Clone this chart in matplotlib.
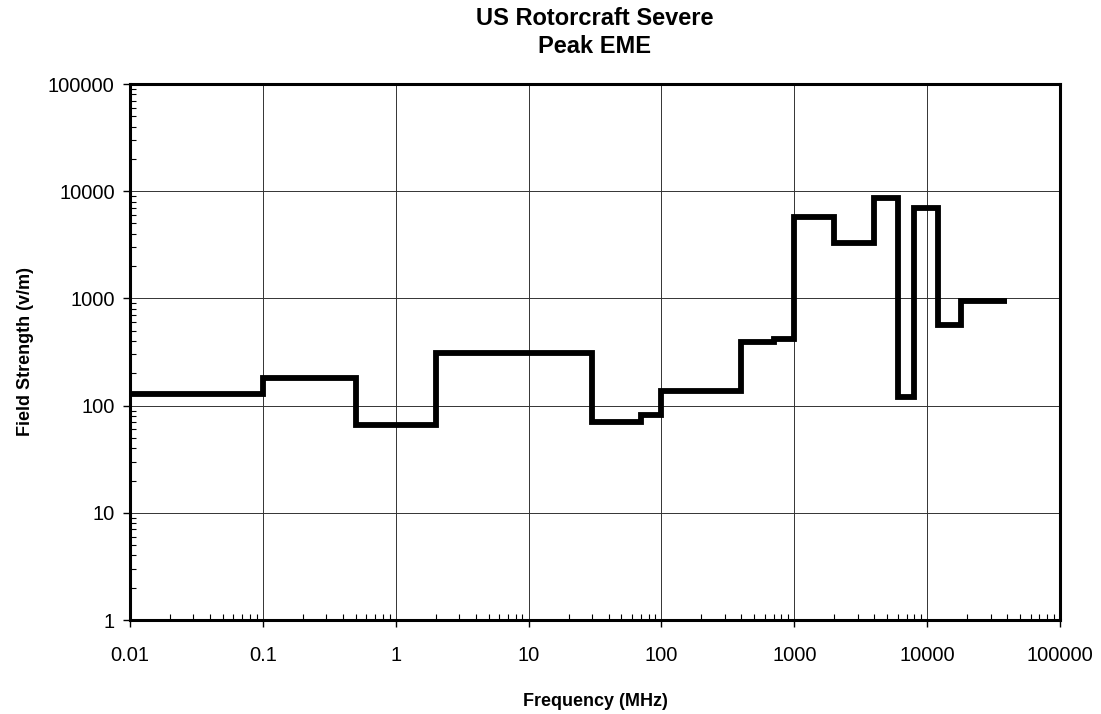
import numpy as np
import matplotlib
matplotlib.use("Agg")
import matplotlib.pyplot as plt
from matplotlib.ticker import FixedLocator, LogLocator, FuncFormatter, NullFormatter

# Frequenzbaender (MHz) und Feldstaerke (V/m)
freq_edges = [0.01, 0.1, 0.5, 2, 30, 70, 100, 400, 700, 1000,
              2000, 4000, 6000, 8000, 12000, 18000, 40000]
field_strength = [127, 180, 66, 310, 70, 82, 138, 390, 420, 5800,
                  3300, 8700, 120, 7000, 560, 950]

x_ticks = [0.01, 0.1, 1, 10, 100, 1000, 10000, 100000]
y_ticks = [1, 10, 100, 1000, 10000, 100000]

plt.rcParams['font.family'] = ['Liberation Sans', 'DejaVu Sans']

fig = plt.figure(figsize=(11.01, 7.14), dpi=100)
ax = fig.add_axes([130 / 1101, 1 - 620 / 714, 930 / 1101, 536 / 714])

y_step = np.append(field_strength, field_strength[-1])
ax.step(freq_edges, y_step, where='post', color='black', linewidth=4.2,
        solid_joinstyle='miter', solid_capstyle='butt', zorder=3)

ax.set_xscale('log')
ax.set_yscale('log')
ax.set_xlim(0.01, 100000)
ax.set_ylim(1, 100000)

fmt = FuncFormatter(lambda v, p: '%g' % v)
ax.xaxis.set_major_locator(FixedLocator(x_ticks))
ax.yaxis.set_major_locator(FixedLocator(y_ticks))
ax.xaxis.set_major_formatter(fmt)
ax.yaxis.set_major_formatter(fmt)
ax.xaxis.set_minor_locator(LogLocator(base=10, subs=np.arange(2, 10), numticks=20))
ax.yaxis.set_minor_locator(LogLocator(base=10, subs=np.arange(2, 10), numticks=20))
ax.xaxis.set_minor_formatter(NullFormatter())
ax.yaxis.set_minor_formatter(NullFormatter())

ax.tick_params(which='major', direction='out', length=5, width=1, labelsize=14.5)
ax.tick_params(which='minor', direction='in', length=4, width=0.8)
ax.tick_params(axis='x', which='major', pad=14)
ax.tick_params(axis='y', which='major', pad=6)

ax.grid(True, which='major', color='#333333', linewidth=0.7)
for s in ax.spines.values():
    s.set_linewidth(2.2)

ax.set_xlabel('Frequency (MHz)', fontsize=13, fontweight='bold', labelpad=20)
ax.set_ylabel('Field Strength (v/m)', fontsize=13, fontweight='bold', labelpad=10)
ax.set_title('US Rotorcraft Severe\nPeak EME', fontsize=17, fontweight='bold',
             pad=22, linespacing=1.3)

fig.savefig('out.png', dpi=100)
